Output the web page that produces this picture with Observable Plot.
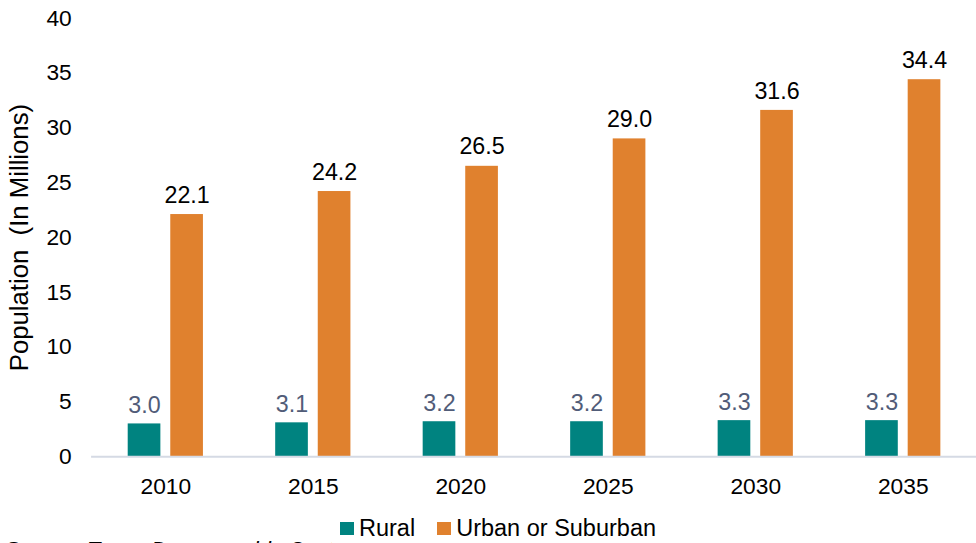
<!DOCTYPE html>
<html>
<head>
<meta charset="utf-8">
<script src="https://cdn.jsdelivr.net/npm/d3@7"></script>
<script src="https://cdn.jsdelivr.net/npm/@observablehq/plot@0.6"></script>
<style>
  html, body { margin: 0; padding: 0; background: #fff; width: 976px; height: 543px; overflow: hidden; }
  #wrap { position: relative; width: 976px; height: 543px; overflow: hidden; font-family: "Liberation Sans", Arial, sans-serif; }
  #chart { position: absolute; left: 0; top: 0; }
  .source { position: absolute; top: 537px; left: 5px; font-size: 22px; font-style: italic; color: #000; white-space: nowrap; }
  .legend { position: absolute; top: 513px; left: 332px; padding-left: 8px; background: #fff; font-size: 23.5px; color: #000; display: flex; align-items: center; white-space: nowrap; height: 30px; }
  .legend .sw { display: inline-block; width: 14px; height: 13px; margin-right: 5px; }
  .legend .item { display: inline-flex; align-items: center; margin-right: 22px; }
</style>
</head>
<body>
<div id="wrap">
  <div id="chart"></div>
  <div class="source">Source: Texas Demographic Center</div>
  <div class="legend">
    <span class="item"><span class="sw" style="background:#008380"></span>Rural</span>
    <span class="item"><span class="sw" style="background:#E0812E"></span>Urban or Suburban</span>
  </div>
</div>
<script>
const years = ["2010", "2015", "2020", "2025", "2030", "2035"];
const rural = [3.0, 3.1, 3.2, 3.2, 3.3, 3.3];
const urban = [22.1, 24.2, 26.5, 29.0, 31.6, 34.4];
const yTicks = [0, 5, 10, 15, 20, 25, 30, 35, 40];
const yLabel = "Population\u00a0 (In Millions)";

const ruralData = years.map((y, i) => ({year: y, value: rural[i]}));
const urbanData = years.map((y, i) => ({year: y, value: urban[i]}));

const TEAL = "#008380";
const ORANGE = "#E0812E";

const chart = Plot.plot({
  width: 986,
  height: 510,
  marginLeft: 92,
  marginRight: 0,
  marginTop: 18,
  marginBottom: 49,
  style: {fontFamily: "'Liberation Sans', Arial, sans-serif", fontSize: "23px", color: "#000", background: "#fff"},
  x: {domain: years, paddingInner: 0.49, paddingOuter: 0.245, label: null},
  y: {domain: [0, 40], label: null},
  marks: [
    Plot.axisY({ticks: yTicks, tickSize: 0, tickPadding: 20, label: null, fill: "#000", fontSize: 23}),
    Plot.axisY({ticks: [], tickSize: 0, label: yLabel, labelAnchor: "center", labelArrow: "none", labelOffset: 83, fontSize: 26, fill: "#000"}),
    Plot.axisX({tickSize: 0, tickPadding: 21, label: null, fill: "#000", fontSize: 23}),
    Plot.barY(ruralData, {x: "year", y: "value", fill: TEAL, insetRight: 43}),
    Plot.barY(urbanData, {x: "year", y: "value", fill: ORANGE, insetLeft: 43}),
    Plot.ruleY([0], {stroke: "#d5dae4", strokeWidth: 2}),
    Plot.text(ruralData, {x: "year", y: "value", text: d => d.value.toFixed(1), dx: -21.5, dy: -11, lineAnchor: "bottom", fill: "#515c78", fontSize: 23.5}),
    Plot.text(urbanData, {x: "year", y: "value", text: d => d.value.toFixed(1), dx: 21.5, dy: -12, lineAnchor: "bottom", fill: "#000", fontSize: 23.5})
  ]
});
document.getElementById("chart").appendChild(chart);
</script>
</body>
</html>
